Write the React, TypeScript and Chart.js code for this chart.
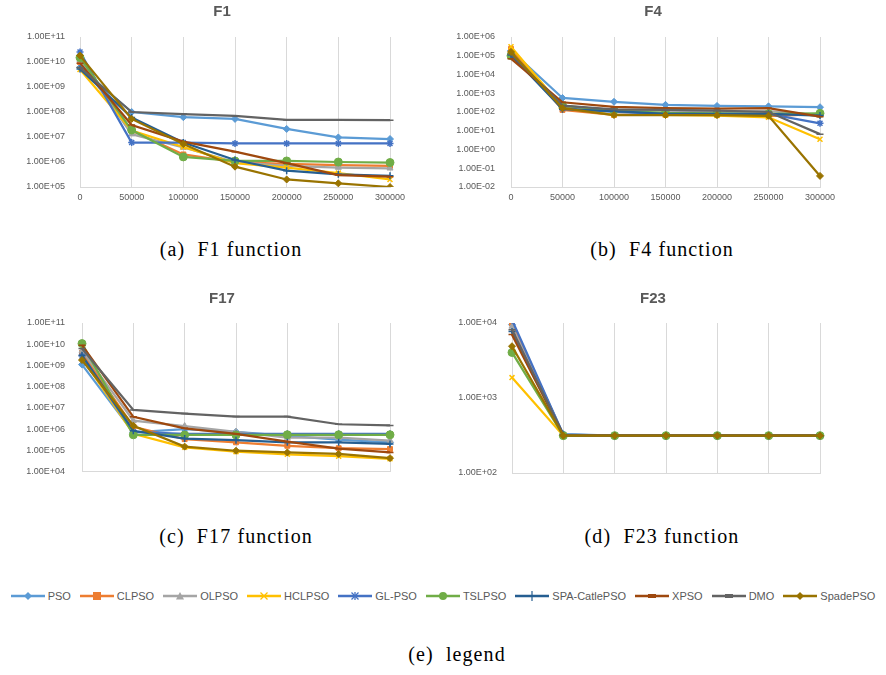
import React, { useEffect, useRef } from 'react';
import { Chart, registerables } from 'chart.js';

Chart.register(...registerables);

// ---------- data ----------
const xLabels = ['0', '50000', '100000', '150000', '200000', '250000', '300000'];
const seriesNames = ['PSO', 'CLPSO', 'OLPSO', 'HCLPSO', 'GL-PSO', 'TSLPSO', 'SPA-CatlePSO', 'XPSO', 'DMO', 'SpadePSO'];

// values per series (same order as seriesNames)
const f1Values = [
  [6e9, 1e8, 6.2e7, 5.3e7, 2.1e7, 9.6e6, 8.3e6],
  [1e10, 1.8e7, 2e6, 1e6, 8.5e5, 7.5e5, 7e5],
  [1.2e10, 1.3e7, 3.8e6, 1e6, 7e5, 6e5, 5.6e5],
  [5e9, 1.8e7, 4e6, 9e5, 6e5, 3.6e5, 2e5],
  [2.5e10, 6e6, 6e6, 5.5e6, 5.5e6, 5.5e6, 5.5e6],
  [1.5e10, 1.9e7, 1.6e6, 1.1e6, 1.1e6, 1.0e6, 9.5e5],
  [5.3e9, 6e7, 6e6, 1.2e6, 4.5e5, 3.2e5, 2.8e5],
  [9e9, 3e7, 6.5e6, 2.6e6, 9e5, 3e5, 2.6e5],
  [6e9, 1e8, 8.3e7, 7e7, 4.8e7, 4.8e7, 4.7e7],
  [1.8e10, 5.3e7, 5.2e6, 6.5e5, 2e5, 1.4e5, 1e5],
];
const f4Values = [
  [1.9e5, 5.6e2, 3.5e2, 2.4e2, 2.1e2, 2.0e2, 1.8e2],
  [2.3e5, 1.3e2, 7e1, 7e1, 7e1, 6e1, 7.8e1],
  [1.5e5, 2e2, 1.3e2, 1.2e2, 1.1e2, 1.1e2, 7e1],
  [3e5, 1.8e2, 7e1, 7e1, 6.5e1, 5.2e1, 3.5],
  [1.2e5, 1.6e2, 1.0e2, 8e1, 8e1, 8e1, 2.5e1],
  [1e5, 2.2e2, 1.2e2, 9e1, 8.5e1, 8e1, 8.5e1],
  [1.1e5, 1.4e2, 1.1e2, 8e1, 8e1, 8e1, 6.5e1],
  [7e4, 3.3e2, 1.9e2, 1.6e2, 1.5e2, 1.6e2, 5.6e1],
  [1.2e5, 2.2e2, 1.4e2, 1.3e2, 1.2e2, 1e2, 6.6],
  [1.6e5, 1.6e2, 6.9e1, 6.9e1, 6.8e1, 6.3e1, 3.9e-2],
];
const f17Values = [
  [1.1e9, 7e5, 1.0e6, 7.5e5, 4.8e5, 3.2e5, 2.4e5],
  [4e9, 1.3e6, 3.4e5, 2.4e5, 1.65e5, 1.26e5, 1.15e5],
  [5e9, 2.5e6, 1.4e6, 7.5e5, 4e5, 4e5, 2.9e5],
  [2.3e9, 6e5, 1.4e5, 8.7e4, 6.5e4, 5.3e4, 4e4],
  [2.8e9, 7.5e5, 6e5, 6e5, 6e5, 6e5, 6e5],
  [1.07e10, 5.4e5, 5.3e5, 5.3e5, 5.4e5, 5.4e5, 5.4e5],
  [3e9, 8.4e5, 3.6e5, 3e5, 2.4e5, 2.4e5, 2e5],
  [9e9, 3.8e6, 1.1e6, 6e5, 2.6e5, 1.2e5, 8e4],
  [6.3e9, 8e6, 5.4e6, 3.9e6, 3.9e6, 1.7e6, 1.5e6],
  [1.8e9, 1.45e6, 1.5e5, 9.6e4, 8e4, 6.8e4, 4.3e4],
];
const f23Values = [
  [9.5e3, 3.3e2, 3.16e2, 3.15e2, 3.15e2, 3.15e2, 3.15e2],
  [1.0e4, 3.2e2, 3.15e2, 3.15e2, 3.15e2, 3.15e2, 3.15e2],
  [9e3, 3.2e2, 3.15e2, 3.15e2, 3.15e2, 3.15e2, 3.15e2],
  [1.87e3, 3.15e2, 3.15e2, 3.15e2, 3.15e2, 3.15e2, 3.15e2],
  [1.1e4, 3.25e2, 3.15e2, 3.15e2, 3.15e2, 3.15e2, 3.15e2],
  [4.05e3, 3.15e2, 3.15e2, 3.15e2, 3.15e2, 3.15e2, 3.15e2],
  [7.7e3, 3.2e2, 3.15e2, 3.15e2, 3.15e2, 3.15e2, 3.15e2],
  [7e3, 3.2e2, 3.15e2, 3.15e2, 3.15e2, 3.15e2, 3.15e2],
  [8.1e3, 3.2e2, 3.15e2, 3.15e2, 3.15e2, 3.15e2, 3.15e2],
  [4.9e3, 3.15e2, 3.15e2, 3.15e2, 3.15e2, 3.15e2, 3.15e2],
];

const f1YTicks = [1e5, 1e6, 1e7, 1e8, 1e9, 1e10, 1e11];
const f4YTicks = [1e-2, 1e-1, 1e0, 1e1, 1e2, 1e3, 1e4, 1e5, 1e6];
const f17YTicks = [1e4, 1e5, 1e6, 1e7, 1e8, 1e9, 1e10, 1e11];
const f23YTicks = [1e2, 1e3, 1e4];

// ---------- styles ----------
const seriesColors = ['#5B9BD5', '#ED7D31', '#A5A5A5', '#FFC000', '#4472C4', '#70AD47', '#255E91', '#9E480E', '#636363', '#997300'];
const pointStyles = ['rectRot', 'rect', 'triangle', 'crossRot', 'star', 'circle', 'cross', 'line', 'line', 'rectRot'];
const TEXT = '#595959';
const SANS = '"Liberation Sans", Arial, sans-serif';
const SERIF = '"Liberation Serif", "Times New Roman", serif';
const Y_AXIS_W = 60;

function fmtSci(v: number): string {
  const [m, ex] = Number(v).toExponential(2).split('e');
  const n = parseInt(ex, 10);
  return m + 'E' + (n < 0 ? '-' : '+') + String(Math.abs(n)).padStart(2, '0');
}

type PanelProps = {
  title: string;
  values: number[][];
  yTicks: number[];
  left: number;
  top: number;
  width: number;
  height: number;
  padL: number;
  padR: number;
  padT: number;
  titleX: number;
  titleY: number;
  xAxisH: number;
  showX: boolean;
  tickPad: number;
};

function Panel(p: PanelProps) {
  const ref = useRef<HTMLCanvasElement | null>(null);
  useEffect(() => {
    if (!ref.current) return;
    const n = seriesNames.length;
    const titlePlugin = {
      id: 'panelTitle',
      afterDraw(chart: any) {
        const ctx = chart.ctx;
        ctx.save();
        ctx.fillStyle = TEXT;
        ctx.font = `bold 15px ${SANS}`;
        ctx.textAlign = 'center';
        ctx.textBaseline = 'middle';
        ctx.fillText(p.title, p.titleX, p.titleY);
        ctx.restore();
      },
    };
    const chart = new Chart(ref.current, {
      type: 'line',
      data: {
        labels: xLabels,
        datasets: seriesNames.map((name, i) => ({
          label: name,
          data: p.values[i],
          borderColor: seriesColors[i],
          backgroundColor: seriesColors[i],
          pointStyle: pointStyles[i] as any,
          pointRadius: pointStyles[i] === 'circle' ? 4 : 3.5,
          pointBorderWidth:
            pointStyles[i] === 'rectRot' || pointStyles[i] === 'rect' || pointStyles[i] === 'circle' || pointStyles[i] === 'triangle' ? 1 : 1.5,
          borderWidth: 2.25,
          tension: 0,
          order: n - 1 - i,
        })),
      },
      options: {
        animation: false,
        responsive: false,
        maintainAspectRatio: false,
        events: [],
        layout: { padding: { left: p.padL, right: p.padR, top: p.padT, bottom: 0 } },
        plugins: {
          legend: { display: false },
          tooltip: { enabled: false },
          title: { display: false },
        },
        scales: {
          x: {
            type: 'category',
            offset: false,
            grid: { display: true, color: '#d9d9d9', drawTicks: false, lineWidth: 1 },
            border: { display: true, color: '#d9d9d9' },
            ticks: {
              display: p.showX,
              color: TEXT,
              font: { family: SANS, size: 9 },
              padding: 5,
              maxRotation: 0,
              autoSkip: false,
            },
            afterFit: (s: any) => {
              s.height = p.xAxisH;
            },
          },
          y: {
            type: 'logarithmic',
            min: p.yTicks[0],
            max: p.yTicks[p.yTicks.length - 1],
            grid: { display: false },
            border: { display: false },
            ticks: {
              color: TEXT,
              font: { family: SANS, size: 9 },
              padding: p.tickPad,
              autoSkip: false,
              callback: (v: any) => fmtSci(Number(v)),
            },
            afterBuildTicks: (s: any) => {
              s.ticks = p.yTicks.map((v) => ({ value: v }));
            },
            afterFit: (s: any) => {
              s.width = Y_AXIS_W;
            },
          },
        },
      } as any,
      plugins: [titlePlugin],
    });
    return () => chart.destroy();
  }, []);
  return (
    <canvas
      ref={ref}
      width={p.width}
      height={p.height}
      style={{ position: 'absolute', left: p.left, top: p.top, width: p.width, height: p.height, display: 'block' }}
    />
  );
}

function Marker({ style, color }: { style: string; color: string }) {
  const cx = 17;
  const cy = 6;
  switch (style) {
    case 'rectRot':
      return <polygon points={`${cx},${cy - 4} ${cx + 4},${cy} ${cx},${cy + 4} ${cx - 4},${cy}`} fill={color} />;
    case 'rect':
      return <rect x={cx - 4} y={cy - 4} width={8} height={8} fill={color} />;
    case 'triangle':
      return <polygon points={`${cx},${cy - 4} ${cx + 4},${cy + 3.5} ${cx - 4},${cy + 3.5}`} fill={color} />;
    case 'crossRot':
      return (
        <g stroke={color} strokeWidth={1.3}>
          <line x1={cx - 3.5} y1={cy - 3.5} x2={cx + 3.5} y2={cy + 3.5} />
          <line x1={cx - 3.5} y1={cy + 3.5} x2={cx + 3.5} y2={cy - 3.5} />
        </g>
      );
    case 'star':
      return (
        <g stroke={color} strokeWidth={1.3}>
          <line x1={cx - 3.5} y1={cy - 3.5} x2={cx + 3.5} y2={cy + 3.5} />
          <line x1={cx - 3.5} y1={cy + 3.5} x2={cx + 3.5} y2={cy - 3.5} />
          <line x1={cx} y1={cy - 4} x2={cx} y2={cy + 4} />
        </g>
      );
    case 'circle':
      return <circle cx={cx} cy={cy} r={4} fill={color} />;
    case 'cross':
      return <line x1={cx} y1={cy - 5} x2={cx} y2={cy + 5} stroke={color} strokeWidth={1.2} />;
    default:
      return <line x1={cx - 4} y1={cy} x2={cx + 4} y2={cy} stroke={color} strokeWidth={4} />;
  }
}

function Legend() {
  return (
    <div
      style={{
        position: 'absolute',
        left: 0,
        top: 588,
        width: 886,
        height: 16,
        display: 'flex',
        justifyContent: 'center',
        alignItems: 'center',
        gap: 9,
        fontFamily: SANS,
        fontSize: 11,
        color: TEXT,
      }}
    >
      {seriesNames.map((name, i) => (
        <div key={name} style={{ display: 'flex', alignItems: 'center', gap: 3, whiteSpace: 'nowrap' }}>
          <svg width={34} height={12} style={{ display: 'block' }}>
            <line x1={0} y1={6} x2={34} y2={6} stroke={seriesColors[i]} strokeWidth={2.5} />
            <Marker style={pointStyles[i]} color={seriesColors[i]} />
          </svg>
          <span>{name}</span>
        </div>
      ))}
    </div>
  );
}

function Caption({ text, cx, baseline }: { text: string; cx: number; baseline: number }) {
  return (
    <div
      style={{
        position: 'absolute',
        left: cx - 150,
        width: 300,
        top: baseline - 19,
        lineHeight: '24px',
        textAlign: 'center',
        fontFamily: SERIF,
        fontSize: 20,
        letterSpacing: 1.1,
        color: '#000',
        whiteSpace: 'pre',
      }}
    >
      {text}
    </div>
  );
}

export default function App() {
  return (
    <div style={{ position: 'absolute', left: 0, top: 0, width: 886, height: 675, background: '#fff', overflow: 'hidden' }}>
      <Panel title="F1" values={f1Values} yTicks={f1YTicks} left={0} top={0} width={440} height={230}
        padL={20} padR={50} padT={37} titleX={222} titleY={12} xAxisH={43} showX={true} tickPad={7} />
      <Panel title="F4" values={f4Values} yTicks={f4YTicks} left={440} top={0} width={446} height={230}
        padL={11} padR={66} padT={37} titleX={213} titleY={12} xAxisH={43} showX={true} tickPad={8} />
      <Panel title="F17" values={f17Values} yTicks={f17YTicks} left={0} top={286} width={440} height={200}
        padL={22} padR={50} padT={37} titleX={222} titleY={13} xAxisH={13} showX={false} tickPad={9} />
      <Panel title="F23" values={f23Values} yTicks={f23YTicks} left={440} top={286} width={446} height={200}
        padL={12} padR={66} padT={37} titleX={213} titleY={13} xAxisH={13} showX={false} tickPad={7} />
      <Caption text="(a)  F1 function" cx={231} baseline={256} />
      <Caption text="(b)  F4 function" cx={662} baseline={256} />
      <Caption text="(c)  F17 function" cx={236} baseline={543} />
      <Caption text="(d)  F23 function" cx={662} baseline={543} />
      <Legend />
      <Caption text="(e)  legend" cx={457} baseline={661} />
    </div>
  );
}
